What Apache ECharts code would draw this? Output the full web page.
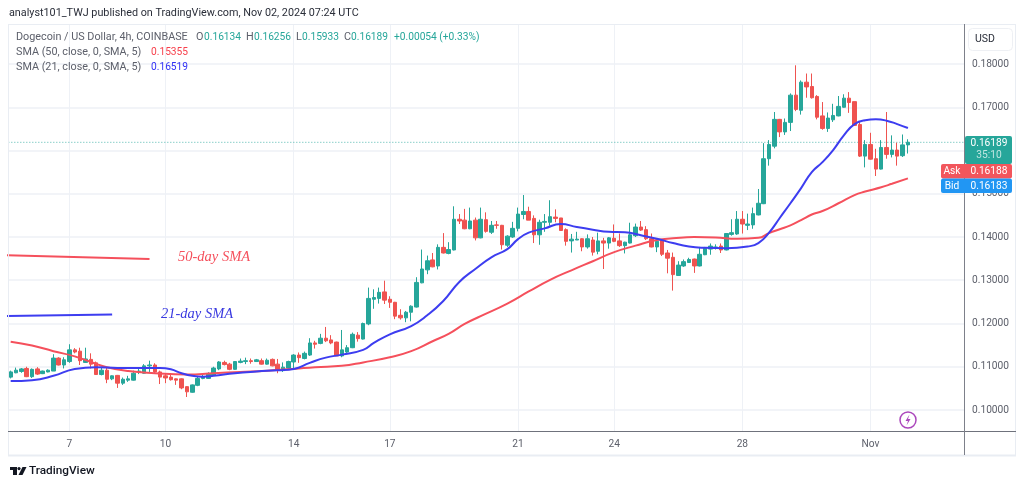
<!DOCTYPE html>
<html>
<head>
<meta charset="utf-8">
<style>html,body{margin:0;padding:0;background:#fff}#c{width:1024px;height:487px}</style>
<script src="https://cdn.jsdelivr.net/npm/echarts@6/dist/echarts.min.js"></script>
</head>
<body>
<div id="c"></div>
<script>
const tickIndexes = [11, 29, 53, 71, 95, 113, 137, 161];
const tickLabels = ['7', '10', '14', '17', '21', '24', '28', 'Nov'];
const priceTicks = [0.10, 0.11, 0.12, 0.13, 0.14, 0.15, 0.16, 0.17, 0.18];
const barSlots = 179;

const opens = [.1076,.1086,.1089,.1096,.1077,.1095,.1084,.1088,.1090,.1120,.1104,.1112,.1139,.1136,.1110,.1117,.1109,.1082,.1092,.1072,.1080,.1062,.1069,.1069,.1088,.1085,.1102,.1104,.1088,.1079,.1076,.1072,.1072,.1054,.1041,.1057,.1073,.1073,.1081,.1095,.1110,.1106,.1094,.1110,.1112,.1114,.1112,.1114,.1106,.1117,.1106,.1091,.1097,.1111,.1127,.1119,.1127,.1155,.1154,.1166,.1162,.1157,.1125,.1134,.1144,.1173,.1164,.1199,.1256,.1258,.1273,.1256,.1249,.1219,.1213,.1226,.1238,.1294,.1324,.1347,.1333,.1376,.1362,.1370,.1441,.1439,.1419,.1439,.1398,.1440,.1411,.1428,.1427,.1381,.1400,.1420,.1452,.1459,.1443,.1405,.1434,.1434,.1446,.1444,.1417,.1391,.1393,.1396,.1377,.1393,.1367,.1391,.1386,.1397,.1391,.1380,.1386,.1403,.1423,.1417,.1396,.1377,.1393,.1363,.1353,.1311,.1333,.1341,.1349,.1333,.1359,.1372,.1375,.1379,.1370,.1406,.1407,.1441,.1427,.1428,.1451,.1477,.1581,.1610,.1672,.1643,.1665,.1728,.1693,.1758,.1748,.1725,.1680,.1651,.1671,.1680,.1700,.1721,.1713,.1660,.1587,.1614,.1581,.1557,.1607,.1591,.1601,.1588,.1613];
const closes = [.1088,.1092,.1095,.1077,.1094,.1083,.1090,.1092,.1120,.1104,.1116,.1139,.1134,.1114,.1118,.1106,.1082,.1092,.1071,.1079,.1062,.1071,.1072,.1085,.1090,.1102,.1104,.1088,.1076,.1074,.1070,.1069,.1051,.1042,.1058,.1073,.1077,.1083,.1097,.1111,.1105,.1094,.1112,.1113,.1114,.1112,.1116,.1106,.1115,.1102,.1092,.1099,.1112,.1127,.1121,.1131,.1155,.1152,.1166,.1160,.1155,.1125,.1139,.1144,.1175,.1165,.1200,.1258,.1260,.1272,.1254,.1249,.1217,.1213,.1226,.1240,.1295,.1326,.1345,.1331,.1376,.1363,.1371,.1441,.1437,.1419,.1437,.1398,.1441,.1413,.1427,.1427,.1382,.1402,.1420,.1453,.1459,.1439,.1405,.1434,.1436,.1447,.1443,.1415,.1390,.1395,.1395,.1377,.1396,.1365,.1391,.1386,.1398,.1390,.1380,.1388,.1405,.1423,.1416,.1396,.1377,.1390,.1360,.1351,.1313,.1335,.1343,.1348,.1333,.1360,.1374,.1379,.1377,.1370,.1408,.1410,.1441,.1430,.1430,.1454,.1478,.1581,.1614,.1672,.1643,.1665,.1728,.1695,.1758,.1747,.1722,.1677,.1651,.1675,.1681,.1702,.1721,.1711,.1658,.1587,.1614,.1580,.1557,.1607,.1591,.1601,.1587,.1613,.1619];
const lows = [.1073,.1085,.1086,.1076,.1074,.1081,.1083,.1087,.1090,.1103,.1096,.1109,.1131,.1104,.1109,.1096,.1081,.1080,.1062,.1069,.1051,.1058,.1065,.1068,.1083,.1084,.1088,.1085,.1060,.1062,.1068,.1058,.1048,.1030,.1040,.1055,.1071,.1072,.1080,.1092,.1103,.1092,.1093,.1108,.1106,.1107,.1111,.1105,.1105,.1101,.1085,.1088,.1095,.1095,.1109,.1117,.1125,.1142,.1152,.1157,.1152,.1125,.1122,.1132,.1143,.1158,.1163,.1196,.1234,.1246,.1245,.1236,.1210,.1209,.1203,.1205,.1237,.1293,.1314,.1330,.1325,.1362,.1360,.1369,.1430,.1418,.1418,.1392,.1397,.1410,.1407,.1419,.1371,.1377,.1398,.1413,.1441,.1439,.1386,.1382,.1412,.1426,.1434,.1414,.1380,.1364,.1393,.1367,.1373,.1357,.1360,.1326,.1373,.1388,.1377,.1362,.1385,.1400,.1414,.1393,.1376,.1365,.1356,.1316,.1276,.1310,.1331,.1340,.1317,.1332,.1358,.1359,.1371,.1363,.1369,.1403,.1405,.1408,.1416,.1419,.1450,.1476,.1565,.1605,.1631,.1636,.1645,.1691,.1683,.1722,.1720,.1672,.1648,.1643,.1666,.1679,.1699,.1687,.1657,.1585,.1561,.1579,.1541,.1556,.1581,.1584,.1565,.1585,.1593];
const highs = [.1091,.1098,.1097,.1100,.1096,.1099,.1091,.1094,.1129,.1122,.1122,.1152,.1143,.1144,.1144,.1131,.1112,.1098,.1098,.1080,.1081,.1075,.1079,.1091,.1096,.1106,.1114,.1108,.1091,.1085,.1081,.1073,.1073,.1055,.1059,.1079,.1082,.1087,.1100,.1113,.1114,.1109,.1113,.1119,.1121,.1119,.1118,.1119,.1119,.1119,.1118,.1110,.1114,.1129,.1133,.1135,.1166,.1160,.1176,.1192,.1173,.1158,.1185,.1150,.1179,.1180,.1202,.1283,.1279,.1283,.1299,.1263,.1250,.1233,.1229,.1242,.1307,.1371,.1357,.1363,.1383,.1409,.1388,.1471,.1453,.1465,.1468,.1445,.1468,.1457,.1437,.1437,.1428,.1404,.1435,.1468,.1497,.1470,.1450,.1440,.1453,.1485,.1464,.1444,.1420,.1407,.1412,.1397,.1406,.1400,.1410,.1398,.1400,.1429,.1408,.1389,.1433,.1431,.1437,.1425,.1408,.1395,.1394,.1370,.1364,.1344,.1348,.1352,.1350,.1377,.1377,.1385,.1383,.1385,.1409,.1441,.1460,.1460,.1454,.1468,.1511,.1617,.1624,.1689,.1673,.1674,.1732,.1797,.1762,.1778,.1778,.1728,.1712,.1688,.1708,.1726,.1730,.1735,.1713,.1666,.1624,.1641,.1604,.1624,.1689,.1635,.1618,.1637,.1626];

const sma21Bars = [0,4,8,12,16,20,24,28,30,32,34,36,38,42,46,50,53,56,59,62,66,68,71,75,78,81,84,87,90,93,95,97,100,103,106,109,112,115,118,121,124,127,130,134,138,140,142,144,146,148,150,152,154,156,158,160,162,164,166,168];
const sma21 = [.1067,.1069,.1079,.1095,.1099,.1097,.1097,.1097,.1094,.1085,.1079,.1077,.1079,.1085,.1089,.1092,.1095,.1109,.1121,.1128,.1139,.1155,.1175,.1194,.1219,.1252,.1296,.1326,.1353,.1372,.1395,.1410,.1420,.1430,.1423,.1417,.1412,.1411,.1404,.1396,.1386,.1378,.1375,.1374,.1378,.1386,.1410,.1444,.1478,.1513,.1550,.1573,.1601,.1635,.1661,.1670,.1672,.1669,.1661,.16519];
const sma50Bars = [0,4,8,12,15,18,22,27,33,38,43,48,53,57,62,66,71,75,79,82,85,88,93,97,101,105,109,113,117,121,124,128,132,136,140,142,144,146,148,150,152,155,158,160,163,165,168];
const sma50 = [.1158,.1149,.1136,.1124,.1111,.1099,.1090,.1085,.1082,.1085,.1088,.1091,.1095,.1099,.1102,.1110,.1122,.1136,.1159,.1176,.1199,.1217,.1246,.1274,.1301,.1323,.1344,.1365,.1380,.1393,.1397,.1400,.1399,.1396,.1398,.1409,.1418,.1427,.1439,.1452,.1460,.1478,.1497,.1505,.1515,.1523,.15355];

const note50Bars = [-1, 26];
const note50 = [.1358, .1349];
const note21Bars = [-1, 19];
const note21 = [.1217, .1221];

const lastBars = [-1, 179];
const lastPrice = [0.16189, 0.16189];

const GREEN = '#26a69a', RED = '#ef5350', BLUE = '#3d3df0', SMARED = '#f5505c';
const GREY = '#5d606b', FONT = 'Roboto, sans-serif';
const TXT = 10.8, NUM = 10.2;

const categories = [];
for (let i = 0; i < barSlots; i++) {
  const k = tickIndexes.indexOf(i);
  categories.push(k >= 0 ? tickLabels[k] : '');
}
const candles = opens.map((o, i) => [o, closes[i], lows[i], highs[i]]);
const zip = (a, b) => a.map((x, i) => [x, b[i]]);

function txt(x, y, text, fill, size, extra) {
  return { type: 'text', z: 30, silent: true, style: Object.assign({
    x, y, text, fill, font: size + 'px ' + FONT, textVerticalAlign: 'middle'
  }, extra || {}) };
}
function ln(x1, y1, x2, y2, stroke, w) {
  return { type: 'line', z: 20, silent: true, shape: { x1, y1, x2, y2 }, style: { stroke, lineWidth: w || 1 } };
}
function box(x, y, width, height, fill, r) {
  return { type: 'rect', z: 25, silent: true, shape: { x, y, width, height, r: r || 0 }, style: { fill } };
}

const graphics = [
  ln(8.5, 24, 8.5, 455, '#e9edf3', 1),
  ln(8, 24.5, 1016, 24.5, '#e9edf3', 1),
  ln(1015.5, 24, 1015.5, 455, '#e9edf3', 1),
  ln(8, 455.5, 1016, 455.5, '#e9edf3', 2),
  ln(8, 431.5, 1016, 431.5, '#6f727c', 1),
  ln(964.5, 24, 964.5, 455, '#7d808a', 1),
  txt(9, 13, 'analyst101_TWJ published on TradingView.com, Nov 02, 2024 07:24 UTC', '#2a2e39', TXT),
  txt(16, 37, 'Dogecoin / US Dollar, 4h, COINBASE', GREY, TXT),
  txt(196, 37, 'O', GREY, TXT), txt(204, 37, '0.16134', GREEN, NUM),
  txt(246, 37, 'H', GREY, TXT), txt(254, 37, '0.16256', GREEN, NUM),
  txt(296, 37, 'L', GREY, TXT), txt(302, 37, '0.15933', GREEN, NUM),
  txt(344, 37, 'C', GREY, TXT), txt(351, 37, '0.16189', GREEN, NUM),
  txt(394, 37, '+0.00054 (+0.33%)', GREEN, NUM),
  txt(16, 52, 'SMA (50, close, 0, SMA, 5)', GREY, TXT), txt(151, 52, '0.15355', '#f7404c', NUM),
  txt(16, 67, 'SMA (21, close, 0, SMA, 5)', GREY, TXT), txt(151, 67, '0.16519', '#3030f5', NUM),
  txt(178, 257, '50-day SMA', SMARED, 14, { font: 'italic 14.5px "Liberation Serif", serif' }),
  txt(161, 314, '21-day SMA', '#3a3ae0', 14, { font: 'italic 14.5px "Liberation Serif", serif' }),
  { type: 'rect', z: 20, silent: true, shape: { x: 968.5, y: 28.5, width: 44, height: 22, r: 4 }, style: { fill: '#fff', stroke: '#eef0f4' } },
  txt(985, 39.5, 'USD', '#2a2e39', 10.5, { textAlign: 'center' }),
  box(965, 136, 47, 28, GREEN, 2),
  txt(989, 143, '0.16189', '#ffffff', NUM, { textAlign: 'center' }),
  txt(989, 155.5, '35:10', '#bfe6e1', NUM, { textAlign: 'center' }),
  box(941, 164, 71, 14.5, '#f2565c', 2),
  txt(952, 171.5, 'Ask', '#ffffff', NUM, { textAlign: 'center' }),
  txt(989, 171.5, '0.16188', '#ffffff', NUM, { textAlign: 'center' }),
  box(941, 178.5, 71, 14.5, '#2196f3', 2),
  txt(952, 186, 'Bid', '#ffffff', NUM, { textAlign: 'center' }),
  txt(989, 186, '0.16183', '#ffffff', NUM, { textAlign: 'center' }),
  { type: 'circle', z: 20, silent: true, shape: { cx: 908, cy: 420, r: 8 }, style: { fill: '#fff', stroke: '#ab47bc', lineWidth: 1.5 } },
  { type: 'polygon', z: 21, silent: true, shape: { points: [[909.5, 414.5], [905.5, 421], [908, 421], [906.5, 425.5], [910.5, 419], [908, 419]] }, style: { fill: '#ab47bc' } },
  { type: 'polygon', z: 20, silent: true, shape: { points: [[10, 467], [17, 467], [17, 475], [13, 475], [13, 470], [10, 470]] }, style: { fill: '#131722' } },
  { type: 'circle', z: 20, silent: true, shape: { cx: 19, cy: 468.6, r: 1.6 }, style: { fill: '#131722' } },
  { type: 'polygon', z: 20, silent: true, shape: { points: [[22.5, 467], [26.5, 467], [22.5, 475], [18.5, 475]] }, style: { fill: '#131722' } },
  txt(29, 471.5, 'TradingView', '#131722', 11.8, { font: '500 11.8px ' + FONT })
];

const chart = echarts.init(document.getElementById('c'), null, { renderer: 'canvas', width: 1024, height: 487 });
chart.setOption({
  animation: false,
  backgroundColor: '#ffffff',
  graphic: graphics,
  grid: { left: 8, top: 24, width: 956, height: 407, containLabel: false },
  xAxis: {
    type: 'category',
    data: categories,
    boundaryGap: true,
    axisLine: { show: false },
    axisTick: { show: false, alignWithLabel: true, interval: (i, v) => v !== '' },
    splitLine: { show: true, alignWithLabel: true, interval: (i, v) => v !== '', lineStyle: { color: '#eef1f6', width: 1 } },
    axisLabel: { show: true, interval: (i, v) => v !== '', color: GREY, fontFamily: 'Roboto', fontSize: NUM, margin: 8, hideOverlap: false }
  },
  yAxis: {
    type: 'value',
    position: 'right',
    min: 0.09514,
    max: 0.18925,
    scale: true,
    axisLine: { show: false },
    axisTick: { show: false, customValues: priceTicks },
    splitLine: { show: true, lineStyle: { color: '#eef1f6', width: 1.5 } },
    axisLabel: { customValues: priceTicks, formatter: v => v.toFixed(5), color: GREY, fontFamily: 'Roboto', fontSize: NUM, margin: 8, padding: [5, 0, 0, 0], showMinLabel: true, showMaxLabel: true }
  },
  series: [
    {
      type: 'candlestick', name: 'DOGEUSD', data: candles, barWidth: 4,
      itemStyle: { color: GREEN, color0: RED, borderColor: GREEN, borderColor0: RED, borderWidth: 1 }
    },
    { type: 'line', name: 'Last price', data: zip(lastBars, lastPrice), symbol: 'none', lineStyle: { color: GREEN, type: [1, 2], width: 1, opacity: 0.8 }, z: 1 },
    { type: 'line', name: 'SMA 50', data: zip(sma50Bars, sma50), smooth: 0.5, symbol: 'none', lineStyle: { color: SMARED, width: 2 }, z: 3 },
    { type: 'line', name: 'SMA 21', data: zip(sma21Bars, sma21), smooth: 0.5, symbol: 'none', lineStyle: { color: BLUE, width: 2 }, z: 4 },
    { type: 'line', name: '50-day note', data: zip(note50Bars, note50), symbol: 'none', lineStyle: { color: SMARED, width: 2 }, z: 3 },
    { type: 'line', name: '21-day note', data: zip(note21Bars, note21), symbol: 'none', lineStyle: { color: BLUE, width: 2 }, z: 3 }
  ]
});
</script>
</body>
</html>
